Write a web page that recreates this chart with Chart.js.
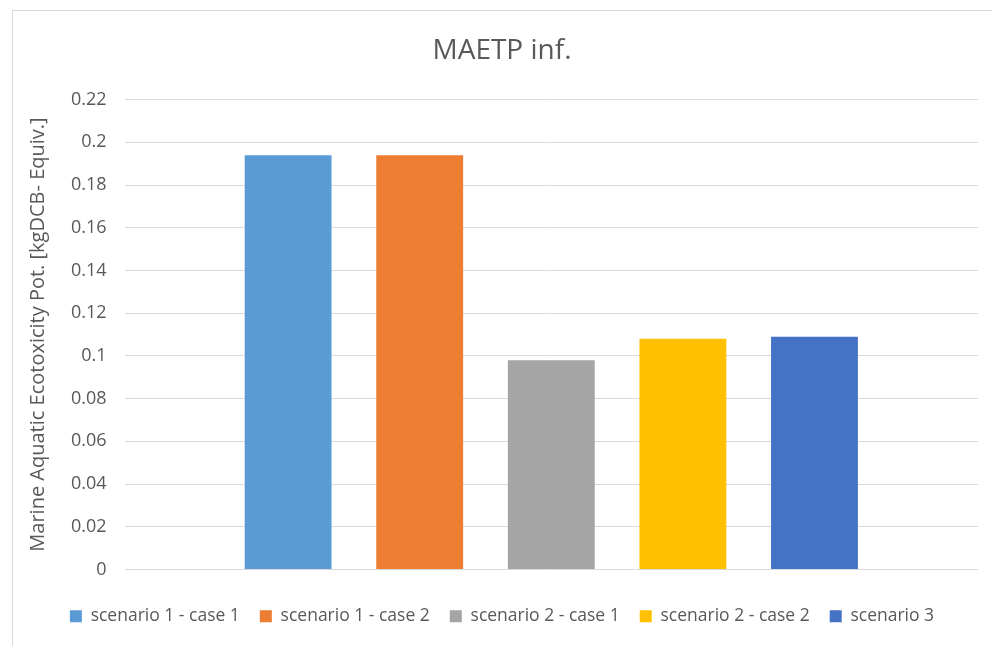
<!DOCTYPE html>
<html>
<head>
<meta charset="utf-8">
<script src="https://cdn.jsdelivr.net/npm/chart.js@4/dist/chart.umd.min.js"></script>
<style>
  html, body { margin: 0; padding: 0; background: #fff; }
  #frame {
    position: absolute; left: 12px; top: 10px; width: 990px; height: 646px;
    border-left: 1px solid #d9d9d9; border-top: 1px solid #d9d9d9;
    box-sizing: border-box;
  }
  #wrap { position: absolute; left: 0; top: 0; width: 992px; height: 646px; }
</style>
</head>
<body>
<div id="frame"></div>
<div id="wrap"><canvas id="c" width="992" height="646"></canvas></div>
<script>
// Marine aquatic ecotoxicity potential per scenario
const categories = [''];
const seriesNames = ['scenario 1 - case 1', 'scenario 1 - case 2', 'scenario 2 - case 1', 'scenario 2 - case 2', 'scenario 3'];
const seriesValues = [0.194, 0.194, 0.098, 0.108, 0.109];
const seriesColors = ['#5B9BD5', '#ED7D31', '#A5A5A5', '#FFC000', '#4472C4'];
const yTicks = ['0', '0.02', '0.04', '0.06', '0.08', '0.1', '0.12', '0.14', '0.16', '0.18', '0.2', '0.22'];

const FONT = "'Open Sans', sans-serif";
const TEXT = '#595959';

const datasets = seriesNames.map((name, i) => ({
  label: name,
  data: [seriesValues[i]],
  backgroundColor: seriesColors[i],
  categoryPercentage: 0.771,
  barPercentage: 0.66
}));

new Chart(document.getElementById('c'), {
  type: 'bar',
  data: { labels: categories, datasets },
  options: {
    responsive: false,
    animation: false,
    layout: { padding: { left: 26, right: 14, top: 0, bottom: 11 } },
    plugins: {
      title: {
        display: true,
        text: 'MAETP inf.',
        color: TEXT,
        font: { family: FONT, size: 28, weight: 'normal' },
        padding: { top: 34, bottom: 32 }
      },
      legend: {
        position: 'bottom',
        labels: {
          color: TEXT,
          font: { family: FONT, size: 17.5 },
          boxWidth: 12,
          boxHeight: 12,
          padding: 20
        }
      },
      tooltip: { enabled: false }
    },
    scales: {
      x: {
        ticks: { display: false },
        grid: { display: false },
        border: { display: false },
        afterFit: (scale) => { scale.height = 18; }
      },
      y: {
        min: 0,
        max: 0.22,
        ticks: {
          stepSize: 0.02,
          color: TEXT,
          font: { family: FONT, size: 18 },
          padding: 18,
          callback: (v) => yTicks[Math.round(v / 0.02)]
        },
        grid: { color: '#d9d9d9', lineWidth: 1, drawTicks: false },
        border: { display: false },
        title: {
          display: true,
          text: 'Marine Aquatic Ecotoxicity Pot. [kgDCB- Equiv.]',
          color: TEXT,
          font: { family: FONT, size: 20 },
          padding: { top: 0, bottom: 3 }
        }
      }
    }
  }
});
</script>
</body>
</html>
